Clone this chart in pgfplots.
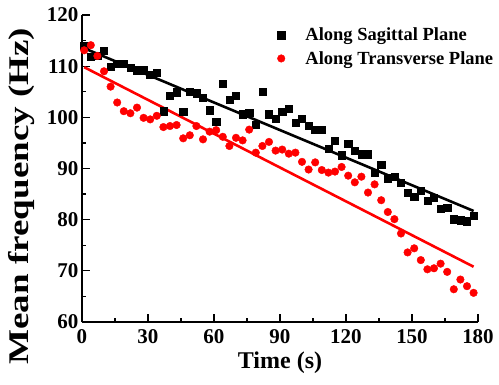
\documentclass[border=0pt]{standalone}
\usepackage{pgfplots}
\pgfplotsset{compat=1.18}
\usepackage{pgfplotstable}
\usepackage{fontspec}
\setmainfont{Liberation Serif}
\pgfplotstableread{
t f
1 114.0
4 111.8
7 112.0
10 113.0
13 109.9
16 110.5
19 110.5
22 109.7
25 109.2
28 109.2
31 108.4
34 108.8
37 101.2
40 104.3
43 104.9
46 101.1
49 105.0
52 104.7
55 103.8
58 101.4
61 99.1
64 106.5
67 103.4
70 104.2
73 100.6
76 100.9
79 98.5
82 105.0
85 100.6
88 99.7
91 101.1
94 101.7
97 98.9
100 99.7
103 98.3
106 97.6
109 97.6
112 93.9
115 95.4
118 92.6
121 94.8
124 93.5
127 92.8
130 92.8
133 89.2
136 90.7
139 88.1
142 88.4
145 87.3
148 85.3
151 84.5
154 85.6
157 83.7
160 84.3
163 82.2
166 82.4
169 80.1
172 79.9
175 79.7
178 80.7
}\sagittal
\pgfplotstableread{
t f
1 113.1
4 114.1
7 112.0
10 109.0
13 106.0
16 102.9
19 101.2
22 100.8
25 101.9
28 99.9
31 99.6
34 100.3
37 98.1
40 98.3
43 98.5
46 95.9
49 96.5
52 98.3
55 95.7
58 97.2
61 97.5
64 96.2
67 94.4
70 96.0
73 95.5
76 97.6
79 93.1
82 94.4
85 95.2
88 93.5
91 93.7
94 92.9
97 93.1
100 91.3
103 89.8
106 91.2
109 89.7
112 89.2
115 89.4
118 90.3
121 88.6
124 87.3
127 88.4
130 85.3
133 86.9
136 83.8
139 81.5
142 80.1
145 77.3
148 73.6
151 74.4
154 72.1
157 70.3
160 70.5
163 71.4
166 69.8
169 66.4
172 68.3
175 67.0
178 65.7
}\transverse
\begin{document}
\begin{tikzpicture}
\useasboundingbox (-82pt,-62pt) rectangle (417pt,322pt);
\begin{axis}[
  scale only axis, width=396pt, height=307pt,
  xmin=0, xmax=180, ymin=60, ymax=120,
  axis x line*=bottom, axis y line*=left,
  axis line style={line width=1.4pt,-},
  tick align=inside,
  xtick={0,30,...,180}, ytick={60,70,...,120},
  minor xtick={15,45,...,165}, minor ytick={65,75,...,115},
  major tick length=8pt, minor tick length=4.5pt,
  every tick/.style={line width=1.2pt, black},
  ticklabel style={font=\bfseries\fontsize{21}{23}\selectfont},
  xticklabel style={yshift=-4pt},
  /pgf/number format/assume math mode=true,
  xlabel={Time (s)},
  ylabel={\scalebox{1.3}[1]{Mean frequency (Hz)}},
  every axis x label/.style={at={(axis description cs:0.5,0)}, anchor=center, yshift=-41pt},
  every axis y label/.style={at={(axis description cs:0,0.41)}, xshift=-60pt, rotate=90, anchor=center},
  xlabel style={font=\bfseries\fontsize{24}{26}\selectfont},
  ylabel style={font=\bfseries\fontsize{28.5}{30}\selectfont},
  legend style={draw=none, fill=none, at={(0.493,0.965)}, anchor=north west,
    font=\bfseries\fontsize{18.5}{20}\selectfont, row sep=5pt, inner sep=0pt},
  legend image code/.code={\draw[#1] plot coordinates {(4pt,0pt)}; \node[inner sep=0pt, minimum size=0pt] at (26pt,0pt) {};},
  legend cell align=left,
  clip=false,
]
\addplot[only marks, mark=square*, mark size=3.6pt, black] table[x=t,y=f] {\sagittal};
\addlegendentry{Along Sagittal Plane}
\addplot[only marks, mark=*, mark size=3.8pt, red, mark options={draw=red, fill=red}] table[x=t,y=f] {\transverse};
\addlegendentry{Along Transverse Plane}
\addplot[black, line width=2.6pt, forget plot] coordinates {(1,113.5) (178,81.7)};
\addplot[red, line width=2.6pt, forget plot] coordinates {(1,109.8) (178,70.8)};
\end{axis}
\end{tikzpicture}
\end{document}
